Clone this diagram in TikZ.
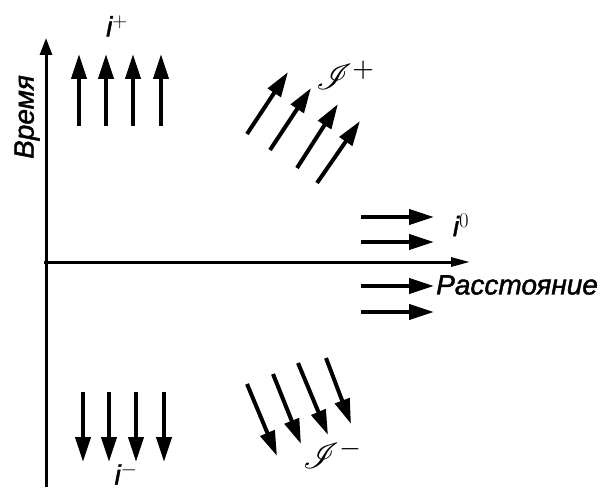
\documentclass[tikz,border=0pt]{standalone}
\usepackage{fontspec}
\usepackage{mathrsfs}
\setmainfont{Liberation Sans}[ItalicFeatures={FakeBold=1.5}]
\usetikzlibrary{arrows.meta}
\tikzset{
  vec/.style={line width=4pt,-{Triangle[length=25pt,width=15pt]}},
  axis/.style={line width=3pt,-{Triangle[length=17pt,width=12pt]}},
  lbl/.style={font=\fontsize{28}{30}\selectfont\itshape,inner sep=0pt},
  slbl/.style={font=\fontsize{10}{12}\selectfont,inner sep=0pt,scale=3.6}
}
\begin{document}
\begin{tikzpicture}[x=1pt,y=-1pt]
\useasboundingbox (0,0) rectangle (610,492);
% axes
\coordinate (o1) at (46,487); \coordinate (tT) at (46,38);
\coordinate (o2) at (44,262); \coordinate (tX) at (470,262);
\draw[axis] (o1) -- (tT);
\draw[axis,-{Triangle[length=19pt,width=9pt]}] (o2) -- (tX);
\node[lbl,rotate=90] (time) at (27,117) {Время};
\node[lbl,anchor=west] (dist) at (436,285) {Расстояние};
% i+
\foreach \x [count=\k] in {79,106,133,161}{
  \coordinate (ip\k a) at (\x,126); \coordinate (ip\k b) at (\x,54);
  \draw[vec] (ip\k a) -- (ip\k b);}
\node[lbl] (iplus) at (117,26) {i$^{+}$};
% J+
\coordinate (jp1a) at (247,134); \coordinate (jp1b) at (288,72);
\coordinate (jp2a) at (270,150); \coordinate (jp2b) at (311,88);
\coordinate (jp3a) at (297,168); \coordinate (jp3b) at (338,104);
\coordinate (jp4a) at (317,183); \coordinate (jp4b) at (360,121);
\foreach \k in {1,2,3,4}{\draw[vec] (jp\k a) -- (jp\k b);}
\node[slbl] (jplus) at (346,75) {$\mathscr{I}^{+}$};
% i0
\foreach \y [count=\k] in {217,242,286,312}{
  \coordinate (iz\k a) at (361,\y); \coordinate (iz\k b) at (434,\y);
  \draw[vec] (iz\k a) -- (iz\k b);}
\node[lbl] (izero) at (461,225) {i$^{0}$};
% i-
\foreach \x [count=\k] in {83,109,136,164}{
  \coordinate (im\k a) at (\x,392); \coordinate (im\k b) at (\x,462);
  \draw[vec] (im\k a) -- (im\k b);}
\node[lbl] (iminus) at (126,474) {i$^{-}$};
% J-
\coordinate (jm1a) at (247,384); \coordinate (jm1b) at (277,456);
\coordinate (jm2a) at (273,374); \coordinate (jm2b) at (301,444);
\coordinate (jm3a) at (298,363); \coordinate (jm3b) at (328,435);
\coordinate (jm4a) at (326,358); \coordinate (jm4b) at (351,424);
\foreach \k in {1,2,3,4}{\draw[vec] (jm\k a) -- (jm\k b);}
\node[slbl] (jminus) at (333,454) {$\mathscr{I}^{-}$};
\end{tikzpicture}
\end{document}
